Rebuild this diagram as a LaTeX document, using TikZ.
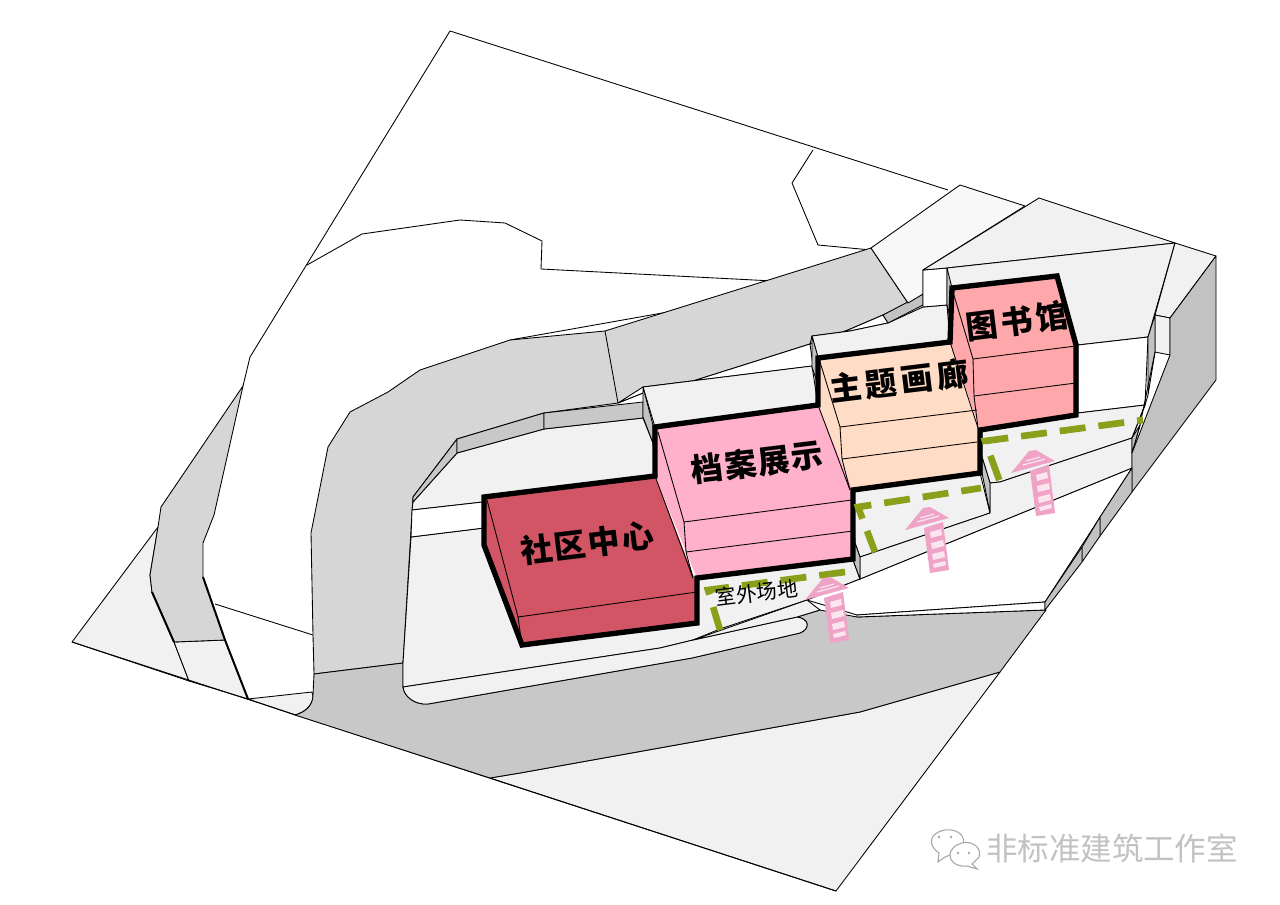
\documentclass[tikz,border=0pt]{standalone}
\usepackage{fontspec}
\newfontfamily\cjk{Noto Sans CJK SC}
\definecolor{plaza}{HTML}{F1F1F1}
\definecolor{pale}{HTML}{F8F8F8}
\definecolor{roadA}{HTML}{D6D6D6}
\definecolor{roadB}{HTML}{C8C8C8}
\definecolor{wallc}{HTML}{C2C2C2}
\definecolor{redb}{HTML}{D25565}
\definecolor{pinkb}{HTML}{FFB0CB}
\definecolor{peachb}{HTML}{FFDCC6}
\definecolor{roseb}{HTML}{FFA8AC}
\definecolor{olive}{HTML}{8A9F1A}
\definecolor{arrowp}{HTML}{EFA3C6}
\definecolor{rung}{HTML}{FBE6EF}
\tikzset{
  ln/.style={draw=black,line width=0.65pt,line join=round},
  thick wall/.style={draw=black,line width=4pt,line join=miter},
  olivedash/.style={draw=olive,line width=5pt,dash pattern=on 19.5pt off 9.75pt},
  blocklabel/.style={inner sep=0pt,rotate=7,font=\cjk\bfseries\fontsize{24}{24}\selectfont,text=black},
  smalllabel/.style={inner sep=0pt,rotate=7,font=\cjk\fontsize{15.5}{16}\selectfont,text=black},
  mark logo/.style={inner sep=0pt,font=\cjk\fontsize{23.6}{24}\selectfont,text=black!24},
  bubble/.style={draw=black!35,line width=0.8pt,fill=white}
}
\newcommand\pinkarrow[1]{%
\begin{scope}[shift={(#1)}]
  \fill[arrowp] (1,20)--(20,14)--(26,62)--(7,65)--cycle;
  \fill[rung] (7,24)--(18,21)--(19,27)--(8,30)--cycle;
  \fill[rung] (8,35)--(20,32)--(21,38)--(9,41)--cycle;
  \fill[rung] (9,46)--(21,43)--(22,49)--(10,52)--cycle;
  \fill[rung] (10,56)--(22,53)--(23,57)--(11,60)--cycle;
  \fill[arrowp] (0,0)--(7,-1)--(26,10)--(-18,22)--cycle;
  \draw[rung,line width=0.9pt] (-3,10)--(11,6) (-6,14)--(16,8);
\end{scope}}
\begin{document}
\begin{tikzpicture}[x=0.75pt,y=-0.75pt]
\useasboundingbox (0,0) rectangle (1280,905);
\fill[white] (0,0) rectangle (1280,905);
% light ground pieces
\path[ln,fill=plaza] (72,642)--(158,527)--(150,575)--(152,592)--(174,642)--(189,681)--cycle;
\path[ln,fill=plaza] (174,642)--(225,640)--(248,699)--(189,681)--cycle;
\path[ln,fill=plaza] (248,699)--(312,692)--(313,697) .. controls (312,706) and (305,712) .. (295,715)--cycle;
\path[ln,fill=plaza] (490,778)--(836,891)--(1000,672)--(860,712)--(520,773)--cycle;
% left road
\path[ln,fill=roadA] (243,386)--(161,507)--(158,527)--(150,575)--(152,592)--(174,642)--(225,640)--(203,577)--(203,543)--(214,515)--cycle;
\draw[line width=1.5pt] (152,592)--(174,642) (203,577)--(225,640)--(248,699);
% site outline and upper lines
\draw[ln] (450,31)--(250,357)--(243,386);
\draw[ln] (450,31)--(948,190);
\draw[ln] (307,265)--(362,234)--(460,220)--(505,223)--(542,241)--(541,269)--(773,281);
\draw[ln] (813,150)--(792,183)--(818,245)--(871,250);
\draw[ln] (215,604)--(313,635);
\draw[ln] (72,642)--(836,891);
\draw[ln] (510,340)--(668,312);
% main road
\path[ln,fill=roadA] (314,674)--(313,635)--(311,533)--(328,447)--(350,412)--(388,392)--(420,370)--(510,340)--(605,331)--(871,248)--(908,303)--(883,315)--(848,330)--(810,344)--(693,381)--(643,393)--(618,403)--(544,413)--(457,439)--(413,497)--(403,663)--cycle;
\draw[ln] (605,331)--(618,403);
% dark road
\path[ln,fill=roadB] (314,674)--(403,663)--(403,687) .. controls (404,696) and (414,705) .. (428,704)--(692,658)--(800,633) .. controls (810,629) and (810,619) .. (797,617)--(820,610)--(857,617)--(1046,610)--(1000,672)--(860,712)--(520,773)--(490,778)--(295,715) .. controls (306,712) and (313,705) .. (313,695)--cycle;
% large plaza and island
\path[ln,fill=plaza] (411,537)--(484,528)--(522,645)--(697,623)--(697,578)--(853,560)--(860,579)--(807,600)--(720,629)--(693,640)--(660,648)--(403,687)--(403,663)--cycle;
\path[ln,fill=plaza] (403,687)--(660,648)--(693,640)--(797,617) .. controls (810,619) and (810,629) .. (800,633)--(692,658)--(428,704) .. controls (414,705) and (404,696) .. (403,687)--cycle;
\path[ln,fill=plaza] (693,640)--(807,600)--(820,610)--(797,617)--cycle;
\path[ln,fill=white] (807,600)--(860,579)--(1132,468)--(1045,602)--(857,615)--cycle;
\path[ln,fill=white] (857,615)--(1045,602)--(1045,610)--(857,617)--cycle;
% plateau behind community centre
\path[ln,fill=plaza] (413,502)--(457,453)--(544,429)--(643,418)--(653,443)--(655,476)--(484,498)--(483,502)--(412,510)--cycle;
\path[ln,fill=white] (412,510)--(483,502)--(484,528)--(411,537)--cycle;
\path[ln,fill=roadB] (413,497)--(457,439)--(457,453)--(413,502)--cycle;
\path[ln,fill=roadB] (457,439)--(544,413)--(544,429)--(457,453)--cycle;
\path[ln,fill=roadB] (544,413)--(643,402)--(643,418)--(544,429)--cycle;
% plateau behind archive
\path[ln,fill=white] (618,403)--(643,393)--(693,381)--(810,344)--(813,366)--(643,387)--cycle;
\path[ln,fill=plaza] (643,387)--(812,366)--(818,405)--(655,427)--cycle;
\path[ln,fill=wallc] (643,387)--(653,425)--(653,443)--(643,417)--cycle;
% plateau behind gallery
\path[ln,fill=white] (810,344)--(848,330)--(883,315)--(888,323)--(850,331)--(812,336)--cycle;
\path[ln,fill=plaza] (812,336)--(850,331)--(888,323)--(923,307)--(947,305)--(950,342)--(818,358)--cycle;
\path[ln,fill=wallc] (812,336)--(818,357)--(817,382)--(812,367)--cycle;
\path[ln,fill=wallc] (883,315)--(923,294)--(923,305)--(888,323)--cycle;
% upper right ground
\path[ln,fill=pale] (871,248)--(960,185)--(1025,206)--(923,270)--(923,294)--(908,303)--cycle;
\path[ln,fill=white] (923,270)--(947,268)--(947,305)--(923,307)--cycle;
\path[ln,fill=wallc] (947,268)--(952,283)--(952,323)--(947,305)--cycle;
\path[ln,fill=plaza] (923,270)--(1039,198)--(1175,243)--(947,268)--cycle;
\path[ln,fill=plaza] (947,268)--(1175,243)--(1148,337)--(1078,345)--(1057,276)--(952,288)--cycle;
\path[ln,fill=white] (1078,345)--(1148,337)--(1145,405)--(1078,413)--cycle;
\path[ln,fill=plaza] (1078,413)--(1145,405)--(1132,438)--(1000,482)--(990,483)--(982,457)--(982,430)--cycle;
\path[ln,fill=plaza] (853,490)--(980,473)--(990,513)--(860,557)--(855,543)--cycle;
\path[ln,fill=plaza] (860,557)--(990,513)--(990,483)--(1000,482)--(1132,438)--(1132,468)--(860,579)--cycle;
\path[ln,fill=wallc] (855,543)--(860,557)--(860,579)--(853,560)--cycle;
\path[ln,fill=wallc] (982,457)--(990,483)--(990,513)--(982,473)--cycle;
% right end
\path[ln,fill=plaza] (1175,243)--(1216,256)--(1170,318)--(1155,315)--cycle;
\path[ln,fill=plaza] (1155,315)--(1170,318)--(1170,355)--(1155,352)--cycle;
\path[ln,fill=wallc] (1148,337)--(1155,315)--(1155,352)--(1148,395)--cycle;
\draw[ln] (1148,395)--(1145,405)--(1132,438);
\draw[ln] (1155,352)--(1140,425)--(1132,453);
\path[ln,fill=wallc] (1132,438)--(1140,425)--(1132,453)--cycle;
\path[ln,fill=wallc] (1216,256)--(1216,380)--(1132,492)--(1132,453)--(1170,355)--(1170,318)--cycle;
\path[ln,fill=wallc] (1132,468)--(1132,492)--(1100,536)--(1100,517)--cycle;
\path[ln,fill=wallc] (1100,517)--(1100,536)--(1082,562)--(1082,547)--cycle;
\path[ln,fill=wallc] (1082,547)--(1082,562)--(1045,610)--(1045,602)--cycle;
% buildings: colour masses
\fill[redb] (484,497)--(655,476)--(697,585)--(697,623)--(522,645)--(484,545)--cycle;
\fill[pinkb] (655,427)--(818,405)--(853,490)--(853,558)--(697,578)--(655,476)--cycle;
\fill[peachb] (818,358)--(950,340)--(978,428)--(980,473)--(853,490)--(818,405)--cycle;
\fill[roseb] (950,288)--(1058,276)--(1077,345)--(1077,415)--(980,430)--(950,342)--cycle;
% building fine lines
\draw[ln] (487,500)--(518,617)--(522,645) (518,617)--(697,592);
\draw[ln] (655,476)--(693,578);
\draw[ln] (658,432)--(684,522)--(686,552)--(693,578) (684,522)--(852,500) (686,552)--(853,531);
\draw[ln] (818,405)--(850,490);
\draw[ln] (820,362)--(840,427)--(842,459)--(850,490) (840,427)--(977,410) (842,459)--(977,442);
\draw[ln] (950,342)--(978,428);
\draw[ln] (953,292)--(973,359)--(974,396)--(978,428) (973,359)--(1076,346) (974,396)--(1076,383);
% thick outline
\draw[thick wall] (484,545)--(484,497)--(655,476)--(655,427)--(818,405)--(818,358)--(950,342)--(952,288)--(1057,276)--(1076,345)--(1076,415)--(980,430)--(980,473)--(853,490)--(853,559)--(697,578)--(697,623)--(522,645)--cycle;
% olive routes
\draw[olivedash] (845,572)--(708,590)--(720,630);
\draw[olivedash,dash phase=4.5pt] (981,488)--(858,507)--(875,552);
\draw[olivedash,dash phase=15pt] (1143,420)--(985,441)--(1000,482);
% arrows
\pinkarrow{823,578}
\pinkarrow{923,508}
\pinkarrow{1029,451}
% labels
\node[blocklabel] (lblA) at (587,543) {社\kern1.5pt区\kern1.5pt中\kern1.5pt心};
\node[blocklabel] (lblB) at (757,462) {档\kern1pt案\kern1pt展\kern1pt示};
\node[blocklabel] (lblC) at (899,381) {主\kern3pt题\kern3pt画\kern3pt廊};
\node[blocklabel] (lblD) at (1017,321) {图\kern2.5pt书\kern2.5pt馆};
\node[smalllabel] (lblE) at (757,593) {室外场地};
% watermark
\path[bubble] (945,857)--(938,862)--(939,853) .. controls (928,846) and (928,833) .. (945,830) .. controls (962,828) and (970,842) .. (958,852)--cycle;
\path[bubble] (972,864)--(977,869)--(967,866) .. controls (950,868) and (944,852) .. (957,845) .. controls (968,838) and (983,846) .. (979,857)--cycle;
\foreach \p in {(939,837),(951,837),(958,853),(969,853)} \fill[black!35] \p circle (1.4);
\node[mark logo] (lblF) at (1112,848) {非标准建筑工作室};
\end{tikzpicture}
\end{document}
